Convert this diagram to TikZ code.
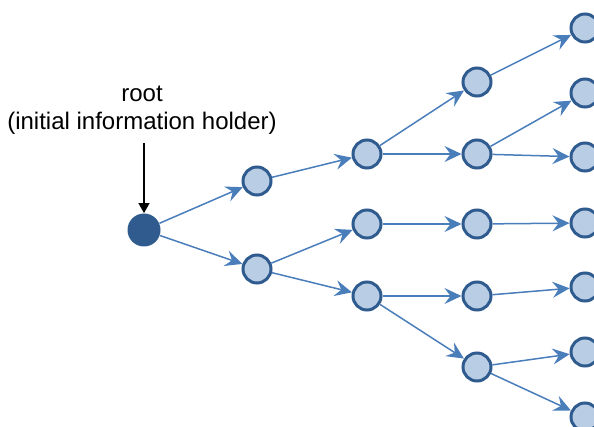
\documentclass[tikz,border=0pt]{standalone}
\usepackage{fontspec}
\setmainfont{Liberation Sans}
\usetikzlibrary{arrows.meta}
\definecolor{nodefill}{HTML}{B9CDE5}
\definecolor{nodeline}{HTML}{2F5B8E}
\definecolor{edgeblue}{HTML}{4A7EBB}
\begin{document}
\begin{tikzpicture}[x=0.5pt,y=-0.5pt,
  holder/.style={circle,fill=nodeline,draw=none,minimum size=16.5pt,inner sep=0pt},
  peer/.style={circle,fill=nodefill,draw=nodeline,line width=1.5pt,minimum size=14pt,inner sep=0pt},
  spread/.style={draw=edgeblue,line width=0.75pt,-{Stealth[length=8.5pt,width=8pt,inset=3pt]}},
  pointer/.style={draw=black,line width=0.6pt,-{Triangle[length=5pt,width=5.5pt]}}]
\useasboundingbox (0,0) rectangle (594,427);

% caption above the root
\node[align=center,font=\fontsize{12}{14}\selectfont] (caption) at (142,110)
  {root\\(initial information holder)};
\coordinate (ptrstart) at (144,143);

% tree nodes
\node[holder] (r) at (144,230) {};
\node[peer] (a) at (257,181) {};
\node[peer] (b) at (257,269) {};
\node[peer] (c) at (367,154) {};
\node[peer] (d) at (367,224) {};
\node[peer] (e) at (367,296) {};
\node[peer] (f) at (477,82) {};
\node[peer] (g) at (477,154) {};
\node[peer] (h) at (477,224) {};
\node[peer] (i) at (477,296) {};
\node[peer] (j) at (477,367) {};
\node[peer] (k) at (585,28) {};
\node[peer] (l) at (585,93) {};
\node[peer] (m) at (585,157) {};
\node[peer] (n) at (585,223) {};
\node[peer] (o) at (585,287) {};
\node[peer] (p) at (585,352) {};
\node[peer] (q) at (585,417) {};

% spreading edges
\foreach \s/\t in {r/a,r/b,a/c,b/d,b/e,c/f,c/g,d/h,e/i,e/j,f/k,g/l,g/m,h/n,i/o,j/p,j/q}
  \draw[spread] (\s) -- (\t);

% pointer to the root
\draw[pointer] (ptrstart) -- (r.north);
\end{tikzpicture}
\end{document}
